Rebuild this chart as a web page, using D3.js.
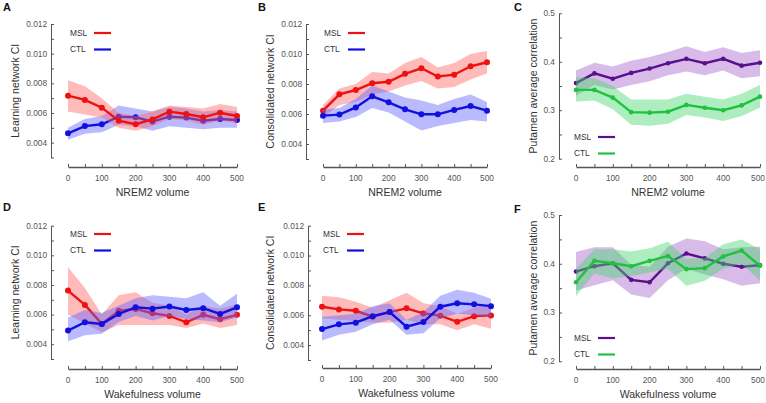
<!DOCTYPE html>
<html>
<head>
<meta charset="utf-8">
<script src="https://cdn.jsdelivr.net/npm/d3@7"></script>
<style>
  body { margin: 0; background: #fff; }
  svg { display: block; font-family: "Liberation Sans", Arial, sans-serif; }
</style>
</head>
<body>
<svg id="chart" width="766" height="403"></svg>
<script>
// volumes sur l'axe des x
const volumes = [0, 50, 100, 150, 200, 250, 300, 350, 400, 450, 500];
const xTickLabels = [0, 100, 200, 300, 400, 500];
const ciTicks = [0.004, 0.006, 0.008, 0.010, 0.012];
const corrTicks = [0.2, 0.3, 0.4, 0.5];

// A : Learning network CI / NREM2
const aMsl = [0.00717, 0.00688, 0.00636, 0.00548, 0.00524, 0.00557, 0.00609, 0.00593, 0.00571, 0.00602, 0.00580];
const aMslLo = [0.0061, 0.0059, 0.0057, 0.0050, 0.0048, 0.0051, 0.0056, 0.0055, 0.0052, 0.0055, 0.0053];
const aMslHi = [0.0082, 0.0078, 0.0070, 0.0060, 0.0058, 0.0061, 0.0065, 0.0064, 0.0063, 0.0066, 0.0064];
const aCtl = [0.00463, 0.00512, 0.00524, 0.00575, 0.00571, 0.00542, 0.00575, 0.00569, 0.00548, 0.00560, 0.00553];
const aCtlLo = [0.0042, 0.0046, 0.0047, 0.0052, 0.0051, 0.0048, 0.0051, 0.0050, 0.0049, 0.0050, 0.0050];
const aCtlHi = [0.0050, 0.0056, 0.0058, 0.0065, 0.0063, 0.0061, 0.0064, 0.0063, 0.0061, 0.0062, 0.0061];

// B : Consolidated network CI / NREM2
const bMsl = [0.00622, 0.00731, 0.00760, 0.00805, 0.00815, 0.00868, 0.00905, 0.00850, 0.00862, 0.00918, 0.00945];
const bMslLo = [0.0058, 0.0066, 0.0068, 0.0073, 0.0075, 0.0079, 0.0082, 0.0077, 0.0078, 0.0083, 0.0087];
const bMslHi = [0.0066, 0.0077, 0.0080, 0.0088, 0.0087, 0.0094, 0.0098, 0.0091, 0.0094, 0.0100, 0.0102];
const bCtl = [0.00589, 0.00596, 0.00644, 0.00718, 0.00678, 0.00631, 0.00598, 0.00598, 0.00627, 0.00653, 0.00622];
const bCtlLo = [0.0054, 0.0055, 0.0058, 0.0064, 0.0061, 0.0055, 0.0049, 0.0052, 0.0054, 0.0056, 0.0055];
const bCtlHi = [0.0063, 0.0064, 0.0070, 0.0079, 0.0075, 0.0071, 0.0069, 0.0066, 0.0070, 0.0073, 0.0068];

// C : Putamen average correlation / NREM2
const cMsl = [0.356, 0.376, 0.365, 0.377, 0.386, 0.397, 0.406, 0.397, 0.406, 0.392, 0.398];
const cMslLo = [0.330, 0.352, 0.343, 0.352, 0.360, 0.372, 0.380, 0.372, 0.382, 0.366, 0.370];
const cMslHi = [0.382, 0.398, 0.390, 0.402, 0.410, 0.420, 0.432, 0.420, 0.430, 0.418, 0.424];
const cCtl = [0.342, 0.342, 0.326, 0.296, 0.295, 0.297, 0.311, 0.305, 0.300, 0.310, 0.328];
const cCtlLo = [0.318, 0.320, 0.302, 0.270, 0.268, 0.272, 0.290, 0.285, 0.278, 0.288, 0.305];
const cCtlHi = [0.368, 0.366, 0.350, 0.322, 0.322, 0.322, 0.334, 0.328, 0.322, 0.334, 0.352];

// D : Learning network CI / Wakefulness
const dMsl = [0.00762, 0.00665, 0.00537, 0.00625, 0.00638, 0.00609, 0.00591, 0.00548, 0.00598, 0.00569, 0.00598];
const dMslLo = [0.0060, 0.0054, 0.0048, 0.0053, 0.0053, 0.0053, 0.0053, 0.0051, 0.0054, 0.0051, 0.0053];
const dMslHi = [0.0092, 0.0078, 0.0060, 0.0073, 0.0075, 0.0068, 0.0066, 0.0060, 0.0066, 0.0064, 0.0067];
const dCtl = [0.00492, 0.00548, 0.00537, 0.00604, 0.00649, 0.00640, 0.00654, 0.00631, 0.00643, 0.00604, 0.00649];
const dCtlLo = [0.0042, 0.0046, 0.0047, 0.0055, 0.0059, 0.0056, 0.0059, 0.0057, 0.0056, 0.0055, 0.0058];
const dCtlHi = [0.0058, 0.0063, 0.0061, 0.0066, 0.0071, 0.0073, 0.0072, 0.0071, 0.0075, 0.0066, 0.0074];

// E : Consolidated network CI / Wakefulness
const eMsl = [0.00657, 0.00639, 0.00630, 0.00590, 0.00621, 0.00646, 0.00612, 0.00597, 0.00556, 0.00594, 0.00599];
const eMslLo = [0.0058, 0.0057, 0.0056, 0.0055, 0.0055, 0.0057, 0.0054, 0.0054, 0.0050, 0.0054, 0.0051];
const eMslHi = [0.0073, 0.0072, 0.0069, 0.0065, 0.0070, 0.0075, 0.0068, 0.0066, 0.0061, 0.0065, 0.0068];
const eCtl = [0.00507, 0.00539, 0.00550, 0.00594, 0.00621, 0.00523, 0.00554, 0.00657, 0.00680, 0.00673, 0.00661];
const eCtlLo = [0.0043, 0.0047, 0.0049, 0.0054, 0.0057, 0.0047, 0.0048, 0.0058, 0.0061, 0.0060, 0.0059];
const eCtlHi = [0.0059, 0.0060, 0.0061, 0.0066, 0.0068, 0.0057, 0.0062, 0.0073, 0.0077, 0.0075, 0.0071];

// F : Putamen average correlation / Wakefulness
const fMsl = [0.384, 0.395, 0.401, 0.367, 0.362, 0.401, 0.421, 0.411, 0.400, 0.394, 0.397];
const fMslLo = [0.345, 0.356, 0.366, 0.337, 0.330, 0.366, 0.390, 0.378, 0.368, 0.355, 0.360];
const fMslHi = [0.424, 0.434, 0.434, 0.398, 0.394, 0.435, 0.452, 0.446, 0.430, 0.434, 0.435];
const fCtl = [0.362, 0.406, 0.401, 0.395, 0.406, 0.416, 0.389, 0.391, 0.415, 0.427, 0.396];
const fCtlLo = [0.334, 0.380, 0.370, 0.375, 0.382, 0.390, 0.355, 0.365, 0.390, 0.400, 0.365];
const fCtlHi = [0.390, 0.430, 0.430, 0.425, 0.432, 0.445, 0.410, 0.412, 0.440, 0.450, 0.430];

const redBlue = { msl: "#ee1111", ctl: "#1111dd", mslBand: "#f66", ctlBand: "#66f" };
const purpleGreen = { msl: "#5a0f8c", ctl: "#1ec23c", mslBand: "#a868cc", ctlBand: "#4ad870" };

// Mise en page de chaque panneau (pixels)
const panels = [
  { letter: "A", lx: 3, ly: 11, ax: 51, x0: 68, x1: 237, yTop: 24, yBot: 157.5, axisY: 167,
    domain: [0.003, 0.012], ticks: ciTicks, fmt: ".3f", minor: 0.001,
    ylabel: "Learning network CI", xlabel: "NREM2 volume", ylx: 15,
    colors: redBlue, ctlFirst: true, legX: 70, legY: 33, r: 3,
    msl: [aMsl, aMslLo, aMslHi], ctl: [aCtl, aCtlLo, aCtlHi] },
  { letter: "B", lx: 258, ly: 11, ax: 306, x0: 323, x1: 487, yTop: 24, yBot: 159, axisY: 167,
    domain: [0.003, 0.012], ticks: ciTicks, fmt: ".3f", minor: 0.001,
    ylabel: "Consolidated network CI", xlabel: "NREM2 volume", ylx: 270,
    colors: redBlue, ctlFirst: false, legX: 324, legY: 33, r: 3,
    msl: [bMsl, bMslLo, bMslHi], ctl: [bCtl, bCtlLo, bCtlHi] },
  { letter: "C", lx: 514, ly: 11, ax: 559, x0: 576, x1: 760, yTop: 13.3, yBot: 158.7, axisY: 167,
    domain: [0.2, 0.5], ticks: corrTicks, fmt: ".1f", minor: 0.05,
    ylabel: "Putamen average correlation", xlabel: "NREM2 volume", ylx: 533,
    colors: purpleGreen, ctlFirst: false, legX: 574, legY: 137, r: 2.3,
    msl: [cMsl, cMslLo, cMslHi], ctl: [cCtl, cCtlLo, cCtlHi] },
  { letter: "D", lx: 3, ly: 211, ax: 51, x0: 68, x1: 237, yTop: 225.7, yBot: 359, axisY: 369,
    domain: [0.003, 0.012], ticks: ciTicks, fmt: ".3f", minor: 0.001,
    ylabel: "Learning network CI", xlabel: "Wakefulness volume", ylx: 15,
    colors: redBlue, ctlFirst: false, legX: 70, legY: 234, r: 3,
    msl: [dMsl, dMslLo, dMslHi], ctl: [dCtl, dCtlLo, dCtlHi] },
  { letter: "E", lx: 258, ly: 211, ax: 308, x0: 322, x1: 491, yTop: 225.7, yBot: 360, axisY: 368,
    domain: [0.003, 0.012], ticks: ciTicks, fmt: ".3f", minor: 0.001,
    ylabel: "Consolidated network CI", xlabel: "Wakefulness volume", ylx: 270,
    colors: redBlue, ctlFirst: false, legX: 323, legY: 234, r: 3,
    msl: [eMsl, eMslLo, eMslHi], ctl: [eCtl, eCtlLo, eCtlHi] },
  { letter: "F", lx: 514, ly: 213, ax: 559, x0: 576, x1: 760, yTop: 215, yBot: 361.3, axisY: 369,
    domain: [0.2, 0.5], ticks: corrTicks, fmt: ".1f", minor: 0.05,
    ylabel: "Putamen average correlation", xlabel: "Wakefulness volume", ylx: 533,
    colors: purpleGreen, ctlFirst: false, legX: 574, legY: 338, r: 2.3,
    msl: [fMsl, fMslLo, fMslHi], ctl: [fCtl, fCtlLo, fCtlHi] }
];

const svg = d3.select("#chart");

panels.forEach((p) => {
  const g = svg.append("g");
  const x = d3.scaleLinear().domain([0, 500]).range([p.x0, p.x1]);
  const y = d3.scaleLinear().domain(p.domain).range([p.yBot, p.yTop]);

  // lettre du panneau
  g.append("text").attr("x", p.lx).attr("y", p.ly)
    .attr("font-size", 11).attr("font-weight", "bold").attr("fill", "#111")
    .text(p.letter);

  // Axe des Y (ticks vers l'intérieur)
  const nMinor = Math.round((p.domain[1] - p.domain[0]) / p.minor);
  const minorTicks = d3.range(nMinor + 1).map((i) => p.domain[0] + i * p.minor);
  g.append("g")
    .attr("transform", `translate(${p.ax},0)`)
    .call(d3.axisRight(y).tickValues(minorTicks).tickSize(3).tickSizeOuter(0).tickFormat(""));
  g.append("g").selectAll("text").data(p.ticks).join("text")
    .attr("x", p.ax - 4).attr("y", (d) => y(d)).attr("dy", "0.35em")
    .attr("text-anchor", "end").attr("font-size", 8.3).attr("fill", "#555")
    .text((d) => d3.format(p.fmt)(d));

  // Axe des X
  const xAxis = g.append("g")
    .attr("transform", `translate(0,${p.axisY})`)
    .call(d3.axisTop(x).tickValues(volumes).tickSize(3).tickSizeOuter(0).tickFormat(""));
  xAxis.select(".domain").attr("stroke-width", 1.6);
  g.append("g").selectAll("text").data(xTickLabels).join("text")
    .attr("x", (d) => Math.min(x(d), 758)).attr("y", p.axisY + 11.5).attr("dy", "0.35em")
    .attr("text-anchor", "middle").attr("font-size", 8.3).attr("fill", "#555")
    .text((d) => d);

  g.selectAll(".domain, .tick line").attr("stroke", "#555");

  // Titres des axes
  g.append("text")
    .attr("x", (p.x0 + p.x1) / 2).attr("y", p.axisY + 29)
    .attr("text-anchor", "middle").attr("font-size", 10.5).attr("fill", "#333")
    .text(p.xlabel);
  g.append("text")
    .attr("transform", `translate(${p.ylx},${(p.yTop + p.yBot) / 2}) rotate(-90)`)
    .attr("text-anchor", "middle").attr("dy", "0.35em").attr("font-size", 10.5).attr("fill", "#333")
    .text(p.ylabel);

  // Bandes et lignes
  const area = d3.area().x((d, i) => x(volumes[i])).y0((d) => y(d[0])).y1((d) => y(d[1]));
  const line = d3.line().x((d, i) => x(volumes[i])).y((d) => y(d));

  const drawSeries = (s, col, bandCol) => {
    const [mean, lo, hi] = s;
    g.append("path").datum(lo.map((v, i) => [v, hi[i]]))
      .attr("d", area).attr("fill", bandCol).attr("fill-opacity", 0.45);
    g.append("path").datum(mean).attr("d", line)
      .attr("fill", "none").attr("stroke", col).attr("stroke-width", 2.4);
    g.append("g").selectAll("circle").data(mean).join("circle")
      .attr("cx", (d, i) => x(volumes[i])).attr("cy", (d) => y(d))
      .attr("r", p.r).attr("fill", col);
  };

  const order = p.ctlFirst
    ? [["ctl", p.ctl], ["msl", p.msl]]
    : [["msl", p.msl], ["ctl", p.ctl]];
  order.forEach(([k, s]) => drawSeries(s, p.colors[k], p.colors[k + "Band"]));

  // Légende
  [["MSL", "msl"], ["CTL", "ctl"]].forEach(([name, k], i) => {
    const ly = p.legY + i * 16.5;
    g.append("text").attr("x", p.legX).attr("y", ly).attr("dy", "0.35em")
      .attr("font-size", 8.3).attr("fill", "#333").text(name);
    g.append("line").attr("x1", p.legX + 24).attr("x2", p.legX + 41)
      .attr("y1", ly).attr("y2", ly)
      .attr("stroke", p.colors[k]).attr("stroke-width", 2.2);
  });
});
</script>
</body>
</html>
